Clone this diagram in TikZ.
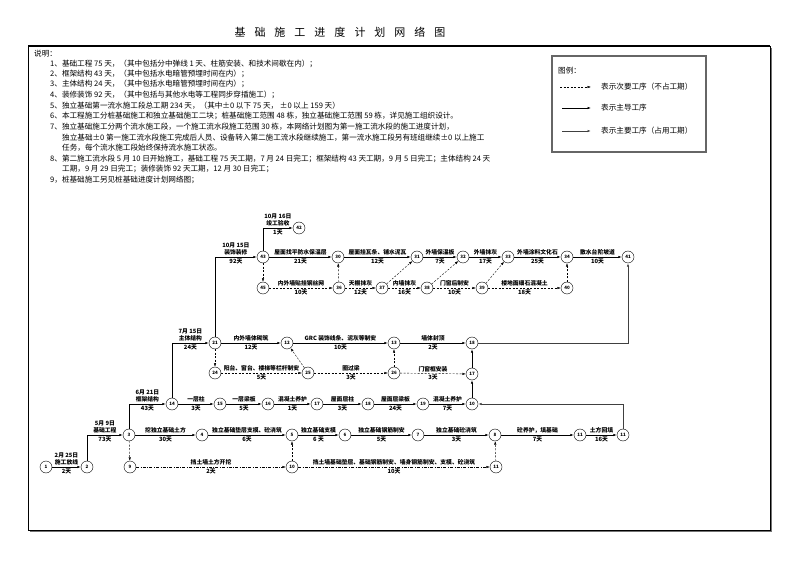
\documentclass[tikz,border=0pt]{standalone}
\usepackage{fontspec}
\setmainfont{Noto Sans CJK SC}
\usetikzlibrary{arrows.meta}

\begin{document}
\begin{tikzpicture}[x=1pt,y=-1pt,
	ev/.style={circle,draw,thin,minimum size=12pt,inner sep=0pt,font=\fontsize{4.5}{5}\selectfont\bfseries},
	main/.style={-{Latex[length=3.5pt,width=2.4pt]},semithick},
	major/.style={main,draw=black!75,thick},
	minor/.style={main,thin,dash pattern=on 2pt off 1.5pt},
	minordot/.style={main,thin,dash pattern=on 3pt off 1.5pt on 0.6pt off 1.5pt},
	la/.style={above,inner sep=1.5pt,align=center,font=\fontsize{5.8}{7.5}\selectfont\bfseries},
	lb/.style={below,inner sep=1.5pt,font=\fontsize{5.8}{7}\selectfont\bfseries},
	note/.style={anchor=west,inner sep=0pt,font=\fontsize{7.6}{9}\selectfont}]
	\useasboundingbox (0,0) rectangle (793,561);

	\draw[black!55,line width=1.2pt] (30,531.5) -- (771.5,531.5) -- (771.5,48);
	\draw[line width=0.7pt] (28,46) rectangle (770,530);
	\draw[line width=1.2pt] (28,46) -- (770,46);
	\node[font=\fontsize{11}{12}\selectfont] (title) at (340,32) {基\hspace{9pt}础\hspace{9pt}施\hspace{9pt}工\hspace{9pt}进\hspace{9pt}度\hspace{9pt}计\hspace{9pt}划\hspace{9pt}网\hspace{9pt}络\hspace{9pt}图};

	\node[note] (t0) at (34,54) {说明：};
	\node[note] (t1) at (50,64) {1、基础工程 75 天，（其中包括分中弹线 1 天、柱筋安装、和技术间歇在内）；};
	\node[note] (t2) at (50,74) {2、框架结构 43 天，（其中包括水电暗管预埋时间在内）；};
	\node[note] (t3) at (50,84) {3、主体结构 24 天，（其中包括水电暗管预埋时间在内）；};
	\node[note] (t4) at (50,95) {4、装修装饰 92 天，（其中包括与其他水电等工程同步穿插施工）；};
	\node[note] (t5) at (50,106) {5、独立基础第一流水施工段总工期 234 天，（其中±0 以下 75 天， ±0 以上 159 天）};
	\node[note] (t6) at (50,116) {6、本工程施工分桩基础施工和独立基础施工二块；桩基础施工范围 48 栋，独立基础施工范围 59 栋，详见施工组织设计。};
	\node[note] (t7) at (50,127) {7、独立基础施工分两个流水施工段，一个施工流水段施工范围 30 栋，本网络计划图为第一施工流水段的施工进度计划，};
	\node[note] (t7b) at (62,138) {独立基础±0 第一施工流水段施工完成后人员、设备转入第二施工流水段继续施工，第一流水施工段另有班组继续±0 以上施工};
	\node[note] (t7c) at (62,148) {任务，每个流水施工段始终保持流水施工状态。};
	\node[note] (t8) at (50,159) {8、第二施工流水段 5 月 10 日开始施工，基础工程 75 天工期，7 月 24 日完工；框架结构 43 天工期，9 月 5 日完工；主体结构 24 天};
	\node[note] (t8b) at (62,169) {工期，9 月 29 日完工；装修装饰 92 天工期，12 月 30 日完工；};
	\node[note] (t9) at (50,180) {9，桩基础施工另见桩基础进度计划网络图；};

	\draw[black!60,line width=1.6pt] (552,56) rectangle (706,152);
	\node[note] (lg) at (558,71) {图例：};
	\coordinate (k1) at (560,87);
	\coordinate (k2) at (591,87);
	\coordinate (k3) at (562,108);
	\coordinate (k4) at (591,108);
	\coordinate (k5) at (562,131);
	\coordinate (k6) at (591,131);
	\draw[minor] (k1) -- (k2);
	\draw[main] (k3) -- (k4);
	\draw[major] (k5) -- (k6);
	\node[note] (lg1) at (601,87) {表示次要工序（不占工期）};
	\node[note] (lg2) at (601,108) {表示主导工序};
	\node[note] (lg3) at (601,131) {表示主要工序（占用工期）};

	\node[ev] (n1) at (46,467) {1};
	\node[ev] (n2) at (87,467) {2};
	\node[ev] (n3) at (129,435) {3};
	\node[ev] (n4) at (202,435) {4};
	\node[ev] (n5) at (292,435) {5};
	\node[ev] (n6) at (345,435) {6};
	\node[ev] (n7) at (418,435) {7};
	\node[ev] (n8) at (495,435) {8};
	\node[ev] (n11a) at (580,435) {11};
	\node[ev] (n11b) at (623,435) {11};
	\node[ev] (n9) at (130,467) {9};
	\node[ev] (n10) at (292,467) {10};
	\node[ev] (n11c) at (496,467) {11};
	\node[ev] (n14) at (172,404) {14};
	\node[ev] (n15) at (220,404) {15};
	\node[ev] (n16) at (268,404) {16};
	\node[ev] (n17) at (317,404) {17};
	\node[ev] (n18) at (368,404) {18};
	\node[ev] (n19) at (423,404) {19};
	\node[ev] (n10b) at (472,404) {10};
	\node[ev] (n21) at (215,343) {21};
	\node[ev] (n12) at (287,343) {12};
	\node[ev] (n13) at (394,343) {13};
	\node[ev] (n18b) at (472,343) {18};
	\node[ev] (n24) at (215,373) {24};
	\node[ev] (n25) at (308,373) {25};
	\node[ev] (n26) at (394,373) {26};
	\node[ev] (n17b) at (472,374) {17};
	\node[ev] (n42) at (299,228) {42};
	\node[ev] (n43) at (263,257) {43};
	\node[ev] (n30) at (338,257) {30};
	\node[ev] (n31) at (417,257) {31};
	\node[ev] (n32) at (463,257) {32};
	\node[ev] (n33) at (508,257) {33};
	\node[ev] (n34) at (567,257) {34};
	\node[ev] (n41) at (628,257) {41};
	\node[ev] (n45) at (263,288) {45};
	\node[ev] (n36) at (339,288) {36};
	\node[ev] (n37) at (382,288) {37};
	\node[ev] (n38) at (427,288) {38};
	\node[ev] (n39) at (482,288) {39};
	\node[ev] (n40) at (567,288) {40};

	\draw[main] (n1) -- node[la]{2月 25日\\施工放线} node[lb]{2天} (n2);
	\draw[main] (n2) |- node[pos=0.75,la]{5月 9日\\基础工程} node[pos=0.75,lb]{73天} (n3);
	\draw[main] (n3) -- node[la]{挖独立基础土方} node[lb]{30天} (n4);
	\draw[main] (n4) -- node[la]{独立基础垫层支模、砼浇筑} node[lb]{6天} (n5);
	\draw[main] (n5) -- node[la]{独立基础支模} node[lb]{6 天} (n6);
	\draw[main] (n6) -- node[la]{独立基础钢筋制安} node[lb]{5天} (n7);
	\draw[main] (n7) -- node[la]{独立基础砼浇筑} node[lb]{3天} (n8);
	\draw[main] (n8) -- node[la]{砼养护，填基础} node[lb]{7天} (n11a);
	\draw[main] (n11a) -- node[la]{土方回填} node[lb]{16天} (n11b);
	\draw[major] (n11b) |- (n10b);
	\draw[minor] (n3) -- (n9);
	\draw[minordot] (n9) -- node[la]{挡土墙土方开挖} node[lb]{2天} (n10);
	\draw[minordot] (n10) -- node[la]{挡土墙基础垫层、基础钢筋制安、墙身钢筋制安、支模、砼浇筑} node[lb]{10天} (n11c);
	\draw[minor] (n10) -- (n5);
	\draw[minor] (n11c) -- (n8);

	\draw[main] (n3) |- node[pos=0.75,la]{6月 21日\\框架结构} node[pos=0.75,lb]{43天} (n14);
	\draw[main] (n14) -- node[la]{一层柱} node[lb]{3天} (n15);
	\draw[main] (n15) -- node[la]{一层梁板} node[lb]{5天} (n16);
	\draw[main] (n16) -- node[la]{混凝土养护} node[lb]{1天} (n17);
	\draw[main] (n17) -- node[la]{屋面层柱} node[lb]{3天} (n18);
	\draw[main] (n18) -- node[la]{屋面层梁板} node[lb]{24天} (n19);
	\draw[main] (n19) -- node[la]{混凝土养护} node[lb]{7天} (n10b);
	\draw[main] (n10b) -- (n17b);
	\draw[main] (n17b) -- (n18b);

	\draw[main] (n14) |- node[pos=0.75,la]{7月 15日\\主体结构} node[pos=0.75,lb]{24天} (n21);
	\draw[main] (n21) -- node[la]{内外墙体砌筑} node[lb]{12天} (n12);
	\draw[main] (n12) -- node[la]{GRC\ 装饰线条、泥灰等制安} node[lb]{10天} (n13);
	\draw[main] (n13) -- node[la]{墙体封顶} node[lb]{2天} (n18b);
	\draw[major] (n18b) -| (n41);
	\draw[minor] (n21) -- (n24);
	\draw[minor] (n24) -- node[la]{阳台、窗台、楼梯等栏杆制安} node[lb]{5天} (n25);
	\draw[minor] (n25) -- (n12);
	\draw[minor] (n25) -- node[la]{圈过梁} node[lb]{3天} (n26);
	\draw[minor] (n26) -- (n13);
	\draw[minor] (n26) -- node[la]{门窗框安装} node[lb]{3天} (n17b);

	\draw[main] (n21) |- node[pos=0.75,la]{10月 15日\\装饰装修} node[pos=0.75,lb]{92天} (n43);
	\draw[main] (n43) |- node[pos=0.75,la]{10月 16日\\竣工验收} node[pos=0.75,lb]{1天} (n42);
	\draw[main] (n43) -- node[la]{屋面找平防水保温层} node[lb]{21天} (n30);
	\draw[main] (n30) -- node[la]{屋面挂瓦条、铺水泥瓦} node[lb]{12天} (n31);
	\draw[main] (n31) -- node[la]{外墙保温板} node[lb]{7天} (n32);
	\draw[main] (n32) -- node[la]{外墙抹灰} node[lb]{17天} (n33);
	\draw[main] (n33) -- node[la]{外墙涂料文化石} node[lb]{25天} (n34);
	\draw[main] (n34) -- node[la]{散水台阶坡道} node[lb]{10天} (n41);
	\draw[minor] (n43) -- (n45);
	\draw[minor] (n45) -- node[la]{内外墙贴挂钢丝网} node[lb]{10天} (n36);
	\draw[minor] (n36) -- (n30);
	\draw[minor] (n36) -- node[la]{天棚抹灰} node[lb]{12天} (n37);
	\draw[minor] (n37) -- (n31);
	\draw[minor] (n37) -- node[la]{内墙抹灰} node[lb]{16天} (n38);
	\draw[minor] (n38) -- (n32);
	\draw[minor] (n38) -- node[la]{门窗后制安} node[lb]{10天} (n39);
	\draw[minor] (n39) -- (n33);
	\draw[minor] (n39) -- node[la]{楼地面细石混凝土} node[lb]{18天} (n40);
	\draw[minor] (n40) -- (n34);
\end{tikzpicture}
\end{document}
